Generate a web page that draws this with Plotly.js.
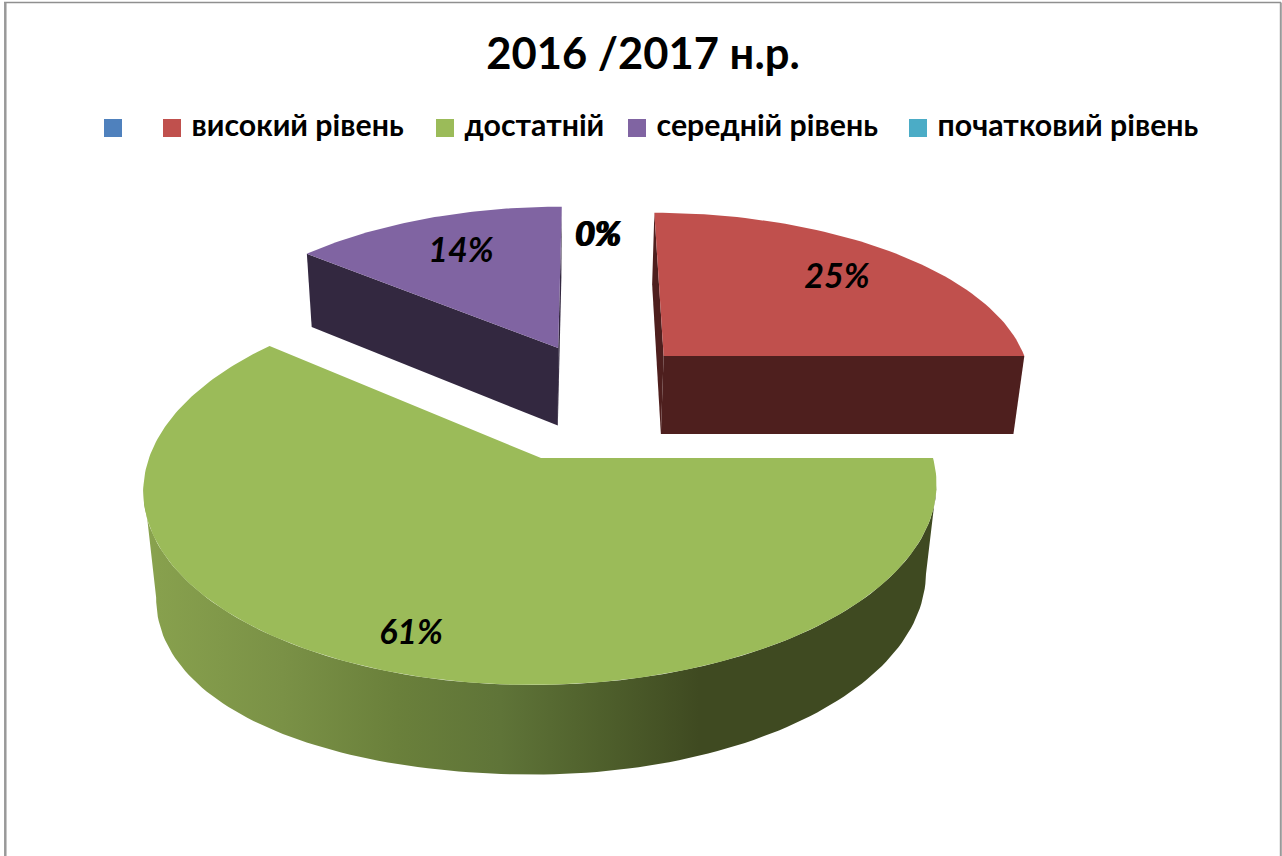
<!DOCTYPE html>
<html>
<head>
<meta charset="utf-8">
<script src="https://cdn.plot.ly/plotly-3.0.1.min.js"></script>
<style>html,body{margin:0;padding:0;background:#fff;overflow:hidden}#chart{width:1282px;height:856px}</style>
</head>
<body>
<div id="chart"></div>
<script>
// ---- data ----
const chartTitle = "2016 /2017 н.р.";
const categories = ["", "високий рівень", "достатній", "середній рівень", "початковий рівень"];
const shares = [0, 25, 61, 14, 0];
const sliceColors = ["#4f81bd", "#c0504d", "#9bbb59", "#8064a2", "#4bacc6"];
const wallColors = ["#2f4a6b", "#4e1f1e", "#3f4a21", "#332840", "#2a6273"];

// ---- projection of the tilted pie onto the page (pixel-sized axes) ----
const FONT = "Lato, 'Open Sans', 'Noto Sans', sans-serif";
const proj = {cx: 541, cy: 458, R: 392, ry: 192.7, q: 0.151, depth: 84, p: 0.025, shear: 0.018};
const pulls = [[0, 0], [0.34, 0.575], [0, 0], [0.048, 0.624], [0, 0]];
function project(u, v, z) {
  const D = 1 + proj.q * v + proj.p * z;
  return [proj.cx + proj.R * u / D, proj.cy + (proj.depth * z - proj.ry * v) / D];
}
function rimPoint(i, deg, z) {
  const a = deg * Math.PI / 180, s = Math.sin(a), c = Math.cos(a);
  const sag = z * (i === 2 ? (s < 0 ? 26 : 6) * s * s : 0) / proj.depth;
  return project(pulls[i][0] + s + proj.shear * c, pulls[i][1] + c, z + sag);
}
function rim(i, a0, a1, z, n) {
  const out = [];
  for (let k = 0; k <= n; k++) out.push(rimPoint(i, a0 + (a1 - a0) * k / n, z));
  return out;
}
function poly(pts, color, extra) {
  return Object.assign({
    type: "scatter", mode: "lines", x: pts.map(p => p[0]).concat(pts[0][0]), y: pts.map(p => p[1]).concat(pts[0][1]),
    fill: "toself", fillcolor: color, line: {width: 0, color: color}, hoverinfo: "skip", showlegend: false
  }, extra || {});
}

// slice angles from the values
const total = shares.reduce((a, b) => a + b, 0);
const spans = [];
let acc = 0;
shares.forEach(s => { spans.push([acc, acc + s / total * 360]); acc += s / total * 360; });

const traces = [];
// purple: cut faces then top
{
  const i = 3, [a0, a1] = spans[i], c = pulls[i];
  const apexT = project(c[0], c[1], 0), apexB = project(c[0], c[1], 1);
  traces.push(poly([apexT, rimPoint(i, a1, 0), rimPoint(i, a1, 1), apexB], wallColors[i]));
  traces.push(poly([apexT, rimPoint(i, a0, 0), rimPoint(i, a0, 1), apexB], wallColors[i]));
  traces.push(poly([apexT].concat(rim(i, a0, a1, 0, 60)), sliceColors[i]));
}
// red: cut faces then top
{
  const i = 1, [a0, a1] = spans[i], c = pulls[i];
  const apexT = project(c[0], c[1], 0), apexB = project(c[0], c[1], 1);
  traces.push(poly([rimPoint(i, a0, 0), apexT, apexB, rimPoint(i, a0, 1)], wallColors[i]));
  traces.push(poly([apexT, rimPoint(i, a1, 0), rimPoint(i, a1, 1), apexB], wallColors[i]));
  traces.push(poly([apexT].concat(rim(i, a0, a1, 0, 60)), sliceColors[i]));
}
// green: curved wall with horizontal shading, then top
{
  const i = 2, [a0, a1] = spans[i], c = pulls[i];
  const wallA = a0 + 8, wallB = 262;
  const top = rim(i, wallA, wallB, 0, 120), bot = rim(i, wallA, wallB, 1, 120).reverse();
  traces.push(poly(top.concat(bot), wallColors[i], {
    fillgradient: {type: "horizontal", start: 143, stop: 937,
      colorscale: [[0, "#8aa44f"], [0.02, "#87a04d"], [0.176, "#7a9146"], [0.32, "#6a803b"], [0.45, "#5f7438"], [0.575, "#4f602c"], [0.70, "#3f4a21"], [1, "#3f4a21"]]}
  }));
  traces.push(poly([project(c[0], c[1], 0)].concat(rim(i, a0, a1, 0, 240)), sliceColors[i]));
}

// legend
const legendX = [104, 163, 436, 628, 909];
const legendY = 128;
traces.push({
  type: "scatter", mode: "markers+text", x: legendX.map(x => x + 9), y: legendX.map(() => legendY),
  marker: {symbol: "square", size: 18, color: sliceColors, line: {width: 0}},
  text: categories.map(c => c ? "\u00a0" + c : c), textposition: "middle right",
  textfont: {family: FONT, size: 30.3, color: "#000", weight: 700}, hoverinfo: "skip", showlegend: false, cliponaxis: false
});

// data labels
const labelX = [597, 837, 411, 461, 599];
const labelY = [237, 279, 635, 253, 237];
traces.push({
  type: "scatter", mode: "text", x: labelX, y: labelY,
  text: shares.map(s => s + "%"), textposition: "middle center",
  textfont: {family: FONT, size: 34, color: "#000", weight: 700, style: "italic"}, hoverinfo: "skip", showlegend: false
});

const layout = {
  width: 1282, height: 856, margin: {l: 0, r: 0, t: 0, b: 0},
  paper_bgcolor: "#fff", plot_bgcolor: "#fff", showlegend: false,
  title: {text: chartTitle, font: {family: FONT, size: 43.5, color: "#000", weight: 700}, x: 0.5016, xanchor: "center", y: 0.937, yanchor: "middle"},
  xaxis: {range: [0, 1282], visible: false, fixedrange: true},
  yaxis: {range: [856, 0], visible: false, fixedrange: true},
  shapes: [
    {type: "line", x0: 4, y0: 2.5, x1: 1281, y1: 2.5, line: {color: "#8f8f8f", width: 1.5}},
    {type: "line", x0: 5.3, y0: 2.5, x1: 5.3, y1: 856, line: {color: "#999999", width: 2.5}},
    {type: "line", x0: 1280.8, y0: 2.5, x1: 1280.8, y1: 856, line: {color: "#999999", width: 2}}
  ]
};
Plotly.newPlot("chart", traces, layout, {displayModeBar: false, staticPlot: true});
</script>
</body>
</html>
